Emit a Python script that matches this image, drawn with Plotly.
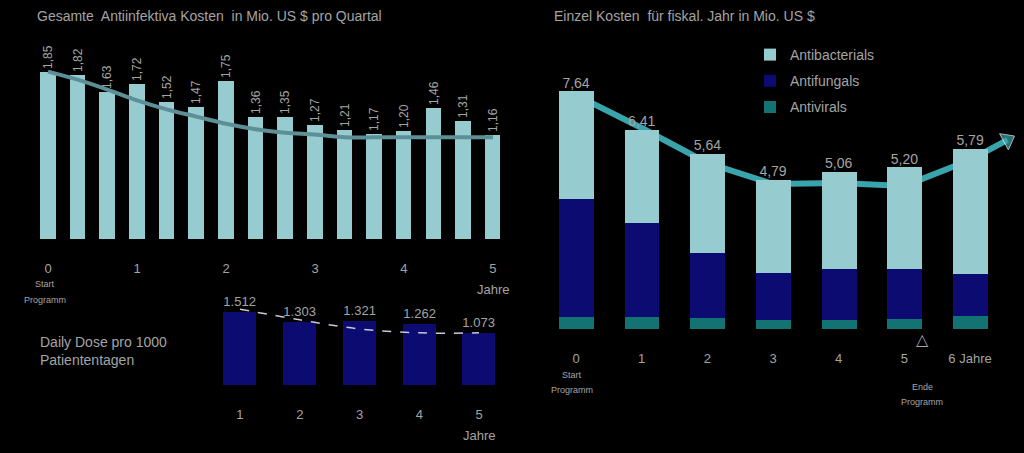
import plotly.graph_objects as go

# ---------------- data ----------------
# upper-left: quarterly total anti-infective costs (Mio. US $)
q_x = list(range(16))
q_values = [1.85, 1.82, 1.63, 1.72, 1.52, 1.47, 1.75, 1.36, 1.35, 1.27, 1.21, 1.17, 1.20, 1.46, 1.31, 1.16]
q_labels = ["1,85", "1,82", "1,63", "1,72", "1,52", "1,47", "1,75", "1,36",
            "1,35", "1,27", "1,21", "1,17", "1,20", "1,46", "1,31", "1,16"]
q_trend = [1.86, 1.77, 1.66, 1.54, 1.44, 1.36, 1.28, 1.22, 1.18, 1.16, 1.13, 1.13, 1.13, 1.13, 1.13, 1.13]
q_tickvals = [0, 3, 6, 9, 12, 15]
q_ticktext = ["0", "1", "2", "3", "4", "5"]

# lower-left: daily dose per 1000 patient days
dd_x = [1, 2, 3, 4, 5]
dd_values = [1.512, 1.303, 1.321, 1.262, 1.073]
dd_labels = ["1.512", "1.303", "1.321", "1.262", "1.073"]
dd_trend = [1.57, 1.35, 1.16, 1.08, 1.08]
dd_ticktext = ["1", "2", "3", "4", "5"]

# right: single costs per fiscal year
yr_x = [0, 1, 2, 3, 4, 5, 6]
antivirals = [0.38, 0.40, 0.36, 0.29, 0.29, 0.33, 0.43]
antifungals = [3.79, 3.02, 2.09, 1.51, 1.64, 1.60, 1.34]
antibacterials = [3.47, 2.99, 3.19, 2.99, 3.13, 3.27, 4.02]
yr_totals = [7.64, 6.41, 5.64, 4.79, 5.06, 5.20, 5.79]
yr_total_labels = ["7,64", "6,41", "5,64", "4,79", "5,06", "5,20", "5,79"]
yr_trend_x = [0, 1, 2, 3, 4, 5, 6, 6.57]
yr_trend_y = [7.52, 6.46, 5.34, 4.66, 4.69, 4.60, 5.43, 6.08]
yr_ticktext = ["0", "1", "2", "3", "4", "5", "6 Jahre"]

# ---------------- style ----------------
W, H = 1024, 453
BG = "#000000"
TXT = "#a4a4a4"
FONT = "Liberation Sans, Arial, sans-serif"
LIGHT = "#96cbd0"
NAVY = "#0b0b72"
TEAL = "#137373"


def px_x(p):
    return p / W


def px_y(p):
    return 1 - p / H


fig = go.Figure()

# upper-left bars
fig.add_trace(go.Bar(
    x=q_x, y=q_values, width=0.52, marker=dict(color=LIGHT, line=dict(width=0)),
    text=q_labels, textposition="outside", textangle=-90, cliponaxis=False,
    constraintext="none",
    textfont=dict(color=TXT, size=12, family=FONT),
    showlegend=False, xaxis="x", yaxis="y", hoverinfo="skip"))
fig.add_trace(go.Scatter(
    x=q_x, y=q_trend, mode="lines", line=dict(color="#5d8f96", width=4, shape="spline"),
    showlegend=False, xaxis="x", yaxis="y", hoverinfo="skip"))

# lower-left bars
fig.add_trace(go.Bar(
    x=dd_x, y=dd_values, width=0.55, marker=dict(color=NAVY, line=dict(width=0)),
    text=dd_labels, textposition="outside", cliponaxis=False, constraintext="none",
    textfont=dict(color=TXT, size=13, family=FONT),
    showlegend=False, xaxis="x2", yaxis="y2", hoverinfo="skip"))
fig.add_trace(go.Scatter(
    x=dd_x, y=dd_trend, mode="lines", line=dict(color="#c8c8d8", width=1.5, dash="dash", shape="spline"),
    showlegend=False, xaxis="x2", yaxis="y2", hoverinfo="skip"))

# right: trend band on base axes (drawn behind the overlaying bar axes)
fig.add_trace(go.Scatter(
    x=yr_trend_x, y=yr_trend_y, mode="lines+markers",
    line=dict(color="#3aa4ac", width=6),
    marker=dict(symbol="triangle-up", size=[0] * (len(yr_trend_x) - 1) + [16],
                angleref="previous", color="#3aa4ac"),
    showlegend=False, xaxis="x3", yaxis="y3", hoverinfo="skip", cliponaxis=False))

for rank, (name, vals, col) in zip([3, 2, 1], [("Antivirals", antivirals, TEAL),
                                               ("Antifungals", antifungals, NAVY),
                                               ("Antibacterials", antibacterials, LIGHT)]):
    fig.add_trace(go.Bar(
        x=yr_x, y=vals, name=name, width=0.53, legendgroup=name, legendrank=rank,
        marker=dict(color=col, line=dict(width=0)),
        xaxis="x4", yaxis="y4", hoverinfo="skip"))

# totals labels above stacked bars
fig.add_trace(go.Scatter(
    x=yr_x, y=yr_totals, mode="text", text=yr_total_labels,
    textposition="top center", textfont=dict(color=TXT, size=14, family=FONT),
    showlegend=False, xaxis="x4", yaxis="y4", hoverinfo="skip", cliponaxis=False))

axis_common = dict(showgrid=False, zeroline=False, showline=False, ticks="",
                   tickfont=dict(color=TXT, size=13, family=FONT))

R_XDOM = [px_x(536.6), px_x(1022.6)]
R_YDOM = [px_y(329), px_y(40)]

fig.update_layout(
    width=W, height=H, paper_bgcolor=BG, plot_bgcolor=BG,
    margin=dict(l=0, r=0, t=0, b=0),
    barmode="stack", bargap=0,
    font=dict(family=FONT, color=TXT),
    xaxis=dict(domain=[px_x(33.2), px_x(507.8)], range=[-0.5, 15.5], anchor="y",
               tickvals=q_tickvals, ticktext=q_ticktext, ticklabelstandoff=20, **axis_common),
    yaxis=dict(domain=[px_y(239), px_y(40)], range=[0, 2.211], anchor="x",
               showticklabels=False, **axis_common),
    xaxis2=dict(domain=[px_x(210.1), px_x(508.9)], range=[0.5, 5.5], anchor="y2",
                tickvals=dd_x, ticktext=dd_ticktext, ticklabelstandoff=20, **axis_common),
    yaxis2=dict(domain=[px_y(385), px_y(290)], range=[0, 1.967], anchor="x2",
                showticklabels=False, **axis_common),
    xaxis3=dict(domain=R_XDOM, range=[-0.6, 6.8], anchor="y3",
                tickvals=yr_x, ticktext=yr_ticktext, ticklabelstandoff=20, **axis_common),
    yaxis3=dict(domain=R_YDOM, range=[0, 9.29], anchor="x3",
                showticklabels=False, **axis_common),
    xaxis4=dict(domain=R_XDOM, range=[-0.6, 6.8], anchor="y4", overlaying="x3",
                showticklabels=False, **axis_common),
    yaxis4=dict(domain=R_YDOM, range=[0, 9.29], anchor="x4", overlaying="y3",
                showticklabels=False, **axis_common),
    legend=dict(x=px_x(750), y=px_y(39), xanchor="left", yanchor="top",
                bgcolor="rgba(0,0,0,0)", font=dict(color=TXT, size=14, family=FONT),
                traceorder="grouped", itemwidth=30, tracegroupgap=5),
)

annos = [
    dict(x=px_x(35), y=px_y(16), text="Gesamte  Antiinfektiva Kosten  in Mio. US $ pro Quartal", size=14),
    dict(x=px_x(552), y=px_y(16), text="Einzel Kosten  für fiskal. Jahr in Mio. US $", size=14),
    dict(x=px_x(38), y=px_y(342), text="Daily Dose pro 1000", size=14),
    dict(x=px_x(38), y=px_y(360), text="Patiententagen", size=14),
]
for a in annos:
    fig.add_annotation(x=a["x"], y=a["y"], xref="paper", yref="paper", text=a["text"],
                       showarrow=False, xanchor="left", yanchor="middle",
                       font=dict(color=TXT, size=a["size"], family=FONT))

centered = [
    (45, 284, "Start", 9), (45, 300, "Programm", 9), (493, 289, "Jahre", 13),
    (479, 435, "Jahre", 13),
    (572, 375, "Start", 9), (572, 390, "Programm", 9),
    (922, 387, "Ende", 9), (922, 402, "Programm", 9),
    (922, 339, "△", 16),
]
for cx, cy, t, s in centered:
    fig.add_annotation(x=px_x(cx), y=px_y(cy), xref="paper", yref="paper", text=t,
                       showarrow=False, xanchor="center", yanchor="middle",
                       font=dict(color=TXT, size=s, family=FONT))

fig.write_html("out.html", config={"displayModeBar": False},
               post_script="document.body.style.margin='0';")
